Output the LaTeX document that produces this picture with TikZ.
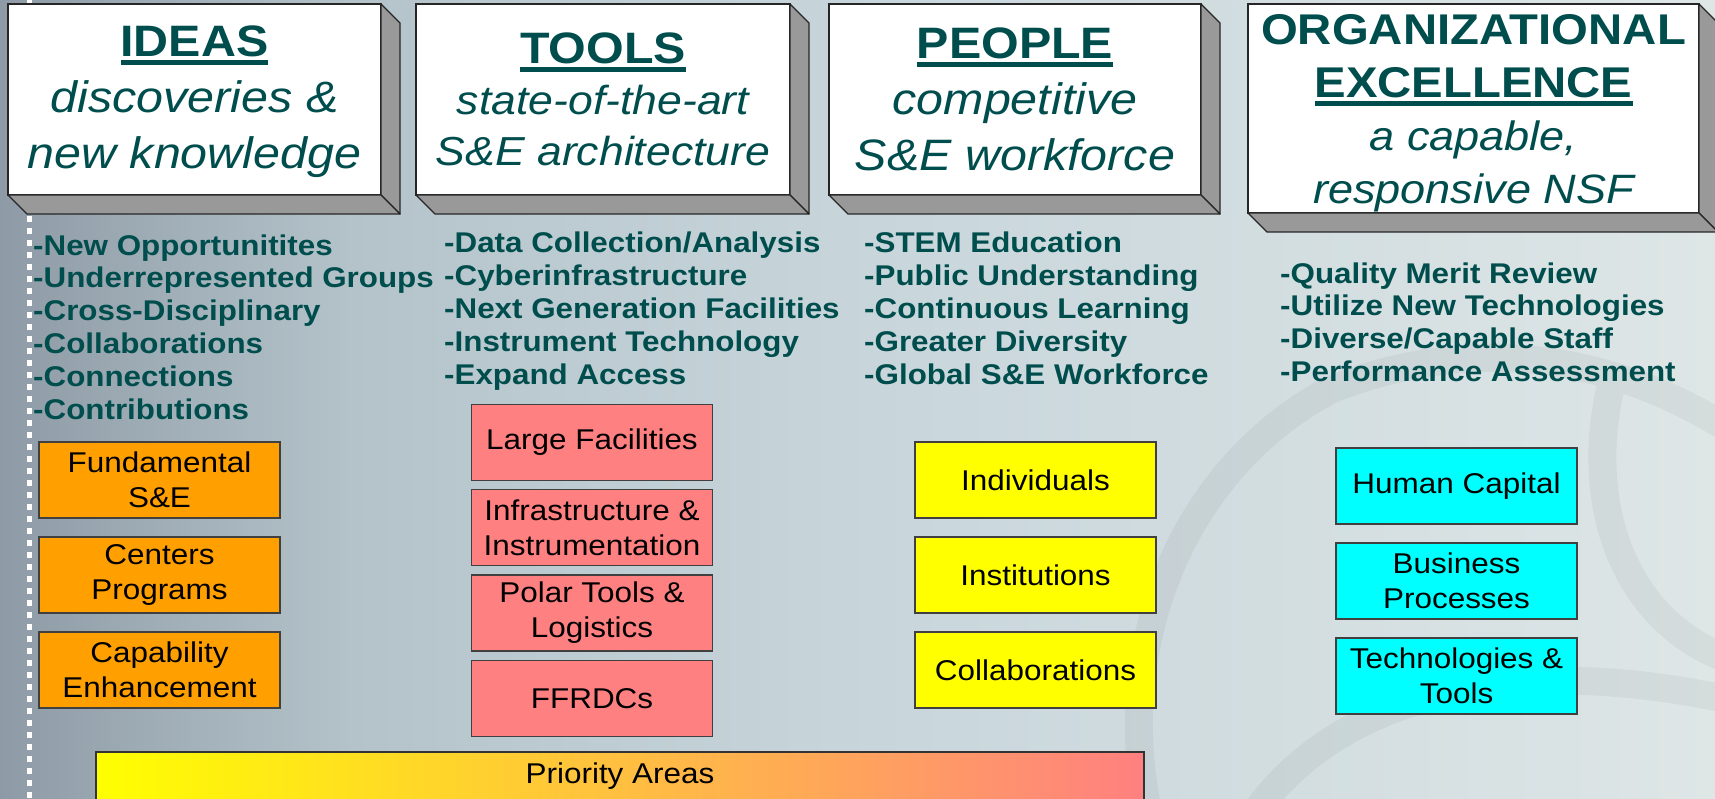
\documentclass[tikz,border=0pt]{standalone}
\usepackage{fontspec}
\setmainfont{Liberation Sans}[FakeStretch=1.1]
\definecolor{nsfteal}{RGB}{0,77,77}
\definecolor{boxorange}{RGB}{255,160,0}
\definecolor{boxpink}{RGB}{255,128,128}
\definecolor{boxyellow}{RGB}{255,255,0}
\definecolor{boxcyan}{RGB}{0,255,255}
\definecolor{sidegray}{RGB}{153,153,153}
\definecolor{bgA}{RGB}{142,155,166}
\definecolor{bgB}{RGB}{180,195,202}
\definecolor{bgC}{RGB}{198,212,218}
\definecolor{bgD}{RGB}{222,230,230}
\newcommand\myul[1]{\setbox0=\hbox{#1}\rlap{\rule[-8pt]{\wd0}{4.5pt}}\box0}
\newcommand\drawslab[1]{%
  \path[slabface] (#1.north east) -- ([shift={(19,19)}]#1.north east) -- ([shift={(19,19)}]#1.south east) -- (#1.south east) -- cycle;
  \path[slabface] (#1.south west) -- (#1.south east) -- ([shift={(19,19)}]#1.south east) -- ([shift={(19,19)}]#1.south west) -- cycle;}
\begin{document}
\begin{tikzpicture}[x=1pt,y=-1pt,
  topbox/.style={draw=black!85, line width=1.3pt, fill=white, inner sep=0pt, outer sep=0pt, align=center, text=nsfteal},
  slabface/.style={fill=sidegray, draw=black!85, line width=1.3pt, line join=round},
  listtext/.style={anchor=base west, align=left, inner sep=0pt, text=nsfteal, font=\fontsize{28.5}{32.8}\selectfont\bfseries},
  catbox/.style={draw=black!75, line width=1.2pt, minimum width=241pt, minimum height=76pt, inner sep=0pt, outer sep=0pt, align=center, font=\fontsize{28.6}{35}\selectfont},
  watermark/.style={draw=black, line width=28pt, opacity=0.045, line cap=round, line join=round},
]
\useasboundingbox (0,0) rectangle (1715,799);
% background
\shade[left color=bgA, right color=bgB] (0,0) rectangle (351,799);
\shade[left color=bgB, right color=bgC] (350,0) rectangle (801,799);
\shade[left color=bgC, right color=bgD] (800,0) rectangle (1715,799);
% faint watermark bands (one path, so overlaps do not darken)
\draw[watermark] (1150,820) .. controls (1110,650) and (1180,470) .. (1330,390)
  .. controls (1480,330) and (1620,360) .. (1730,430)
  (1250,820) .. controls (1330,700) and (1500,650) .. (1730,700)
  (1610,390) .. controls (1585,500) and (1620,620) .. (1730,660);
% dotted guide
\draw[white, line width=5pt, dash pattern=on 6pt off 6pt] (29.5,0) -- (29.5,799);
% top slabs
\node[topbox, minimum width=373pt, minimum height=191pt, font=\fontsize{44}{56}\selectfont] (ideas) at (194.5,99.5)
  {{\rule{0pt}{36pt}\bfseries\myul{IDEAS}}\\{\itshape discoveries \&}\\{\itshape new knowledge}};
\node[topbox, minimum width=374pt, minimum height=191pt, font=\fontsize{44}{51}\selectfont] (tools) at (603,99.5)
  {{\bfseries\myul{TOOLS}}\\{\fontsize{40.5}{51}\selectfont\itshape state-of-the-art}\\{\fontsize{40.5}{51}\selectfont\itshape S\&E architecture}};
\node[topbox, minimum width=372pt, minimum height=191pt, font=\fontsize{44}{56}\selectfont] (people) at (1015,99.5)
  {{\bfseries\myul{PEOPLE}}\\{\itshape competitive}\\{\itshape S\&E workforce}};
\node[topbox, minimum width=451pt, minimum height=209pt, font=\fontsize{43}{53}\selectfont] (org) at (1473.5,108.5)
  {{\rule{0pt}{40pt}\bfseries ORGANIZATIONAL}\\{\bfseries\myul{EXCELLENCE}}\\{\fontsize{41}{53}\selectfont\itshape a capable,}\\{\fontsize{41}{53}\selectfont\itshape responsive NSF}};
\drawslab{ideas}
\drawslab{tools}
\drawslab{people}
\drawslab{org}
% lists (anchor = baseline of last line)
\node[listtext] (ideaslist) at (33,419) {-New Opportunitites\\-Underrepresented Groups\\-Cross-Disciplinary\\-Collaborations\\-Connections\\-Contributions};
\node[listtext] (toolslist) at (444,384) {-Data Collection/Analysis\\-Cyberinfrastructure\\-Next Generation Facilities\\-Instrument Technology\\-Expand Access};
\node[listtext] (peoplelist) at (864,384) {-STEM Education\\-Public Understanding\\-Continuous Learning\\-Greater Diversity\\-Global S\&E Workforce};
\node[listtext] (orglist) at (1280,381.5) {-Quality Merit Review\\-Utilize New Technologies\\-Diverse/Capable Staff\\-Performance Assessment};
% category boxes
\node[catbox, fill=boxorange] (fund) at (159.5,480) {Fundamental\\S\&E};
\node[catbox, fill=boxorange] (centers) at (159.5,575) {Centers\\Programs};
\node[catbox, fill=boxorange] (capab) at (159.5,670) {Capability\\Enhancement};
\node[catbox, fill=boxpink] (large) at (592,442.5) {Large Facilities};
\node[catbox, fill=boxpink] (infra) at (592,527.5) {Infrastructure \&\\Instrumentation};
\node[catbox, fill=boxpink] (polar) at (592,613) {Polar Tools \&\\Logistics};
\node[catbox, fill=boxpink] (ffrdc) at (592,698.5) {FFRDCs};
\node[catbox, fill=boxyellow] (indiv) at (1035.5,480) {Individuals};
\node[catbox, fill=boxyellow] (inst) at (1035.5,575) {Institutions};
\node[catbox, fill=boxyellow] (collab) at (1035.5,670) {Collaborations};
\node[catbox, fill=boxcyan] (human) at (1456.5,486) {Human Capital};
\node[catbox, fill=boxcyan] (business) at (1456.5,581) {Business\\Processes};
\node[catbox, fill=boxcyan] (tech) at (1456.5,676) {Technologies \&\\Tools};
% priority bar
\node[draw=black!80, line width=1.2pt, left color=boxyellow, right color=boxpink, minimum width=1048pt, minimum height=48pt, inner sep=0pt, outer sep=0pt, font=\fontsize{28.6}{35}\selectfont] (prio) at (620,776) {Priority Areas};
\end{tikzpicture}
\end{document}
